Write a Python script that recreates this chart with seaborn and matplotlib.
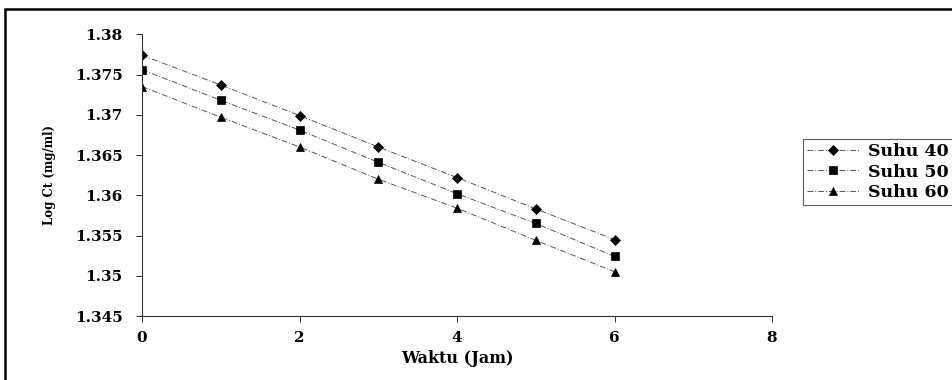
import matplotlib
matplotlib.use("Agg")
import matplotlib.pyplot as plt
import seaborn as sns
import pandas as pd
from matplotlib.patches import Rectangle

# ---- data ----
waktu = [0, 1, 2, 3, 4, 5, 6]
suhu_40 = [1.3774, 1.3737, 1.3699, 1.3660, 1.3622, 1.3583, 1.3545]
suhu_50 = [1.3756, 1.3718, 1.3681, 1.3641, 1.3602, 1.3565, 1.3524]
suhu_60 = [1.3735, 1.3697, 1.3660, 1.3620, 1.3584, 1.3544, 1.3505]
series_names = ["Suhu 40", "Suhu 50", "Suhu 60"]
x_ticks = [0, 2, 4, 6, 8]
y_ticks = [1.345, 1.35, 1.355, 1.36, 1.365, 1.37, 1.375, 1.38]
y_tick_labels = ["1.345", "1.35", "1.355", "1.36", "1.365", "1.37", "1.375", "1.38"]

df = pd.DataFrame({
    "Waktu": waktu * 3,
    "LogCt": suhu_40 + suhu_50 + suhu_60,
    "Seri": [s for s in series_names for _ in waktu],
})

sns.set_style("white")
plt.rcParams["font.family"] = ["DejaVu Serif"]
plt.rcParams["text.color"] = "black"
plt.rcParams["xtick.color"] = "black"
plt.rcParams["ytick.color"] = "black"
plt.rcParams["axes.labelcolor"] = "black"

fig = plt.figure(figsize=(9.52, 3.80), dpi=100)
ax = fig.add_axes([142 / 952, 1 - 316 / 380, 630 / 952, (316 - 34.3) / 380])

sns.lineplot(
    data=df, x="Waktu", y="LogCt", hue="Seri", style="Seri",
    markers=["D", "s", "^"], dashes=[(6, 2, 1, 2)] * 3,
    palette=["#555555"] * 3, linewidth=0.7, markersize=5.5,
    legend=False, ax=ax,
)
for ln in ax.lines:
    ln.set_markerfacecolor("black")
    ln.set_markeredgecolor("black")
    ln.set_markeredgewidth(0.5)

ax.set_xlim(0, 8)
ax.set_ylim(1.345, 1.38)
ax.set_xticks(x_ticks)
ax.set_xticklabels([str(t) for t in x_ticks])
ax.set_yticks(y_ticks)
ax.set_yticklabels(y_tick_labels)

for s in ["top", "right"]:
    ax.spines[s].set_visible(False)
for s in ["left", "bottom"]:
    ax.spines[s].set_color("#333333")
    ax.spines[s].set_linewidth(0.8)

ax.tick_params(axis="both", which="both", direction="out", length=4, width=0.7,
               color="#333333", labelcolor="black", labelsize=11,
               left=True, bottom=True)
ax.tick_params(axis="y", pad=10)
ax.tick_params(axis="x", pad=7)
for lbl in ax.get_xticklabels() + ax.get_yticklabels():
    lbl.set_fontweight("bold")

ax.set_xlabel("Waktu (Jam)", fontsize=11.5, fontweight="bold", color="black")
ax.xaxis.set_label_coords(0.5, -0.12)
ax.set_ylabel("Log Ct (mg/ml)", fontsize=8.5, fontweight="bold", color="black")
ax.yaxis.set_label_coords(-0.137, 0.5)

leg = ax.legend(ax.lines[:3], series_names, loc="center left",
                bbox_to_anchor=(803 / 952, 1 - 172 / 380),
                bbox_transform=fig.transFigure,
                frameon=True, fancybox=False, edgecolor="#333333",
                prop={"family": "DejaVu Serif", "weight": "bold", "size": 12.5},
                handlelength=3.0, handletextpad=0.5, borderpad=0.25,
                labelspacing=0.2, borderaxespad=0)
leg.get_frame().set_linewidth(0.8)
for t in leg.get_texts():
    t.set_color("black")

# outer chart-area border
fig.patches.append(Rectangle((5 / 952, -0.1), 1.1, 1 - 8.5 / 380 + 0.1,
                             transform=fig.transFigure, fill=False,
                             edgecolor="black", linewidth=1.8))

fig.savefig("out.png", dpi=100)
